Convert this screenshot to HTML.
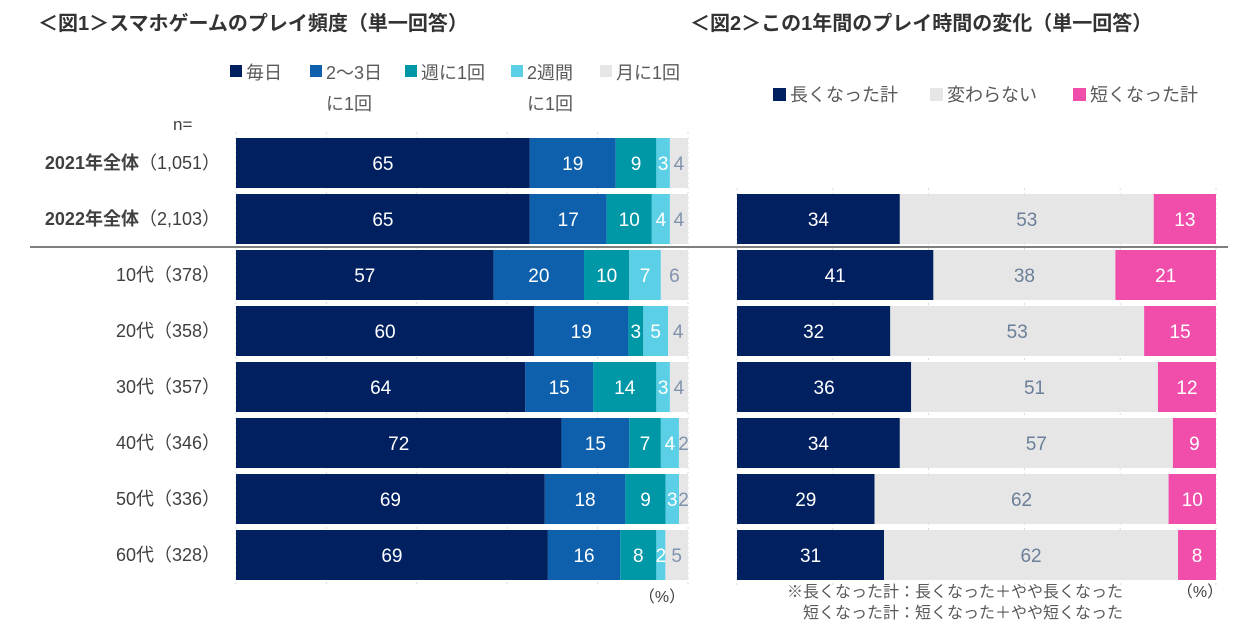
<!DOCTYPE html>
<html><head><meta charset="utf-8"><style>
body{margin:0;background:#fff;}
svg{display:block;font-family:"Liberation Sans","Noto Sans CJK JP",sans-serif;}
</style></head><body>
<svg id="c" width="1240" height="637" viewBox="0 0 1240 637">
<text x="38" y="30" font-size="20" font-weight="bold" fill="#333">＜図1＞スマホゲームのプレイ頻度（単一回答）</text>
<text x="690" y="30" font-size="20" font-weight="bold" fill="#333">＜図2＞この1年間のプレイ時間の変化（単一回答）</text>
<g id="g1"></g><g id="g2"></g>
<line x1="30" y1="247" x2="1228" y2="247" stroke="#7f7f7f" stroke-width="2"/>
<text x="173" y="130" font-size="17" fill="#404040">n=</text>
<text x="662" y="602" font-size="16" fill="#404040" text-anchor="middle">（%）</text>
<text x="1200" y="597" font-size="16" fill="#404040" text-anchor="middle">（%）</text>
<text x="1123" y="597" font-size="16" fill="#595959" text-anchor="end">※長くなった計：長くなった＋やや長くなった</text>
<text x="1123" y="618" font-size="16" fill="#595959" text-anchor="end">短くなった計：短くなった＋やや短くなった</text>
</svg>
<script>
const rows1=["2021年全体","2022年全体","10代","20代","30代","40代","50代","60代"];
const ns1=["（1,051）","（2,103）","（378）","（358）","（357）","（346）","（336）","（328）"];
const ser1=["毎日","2～3日に1回","週に1回","2週間に1回","月に1回"];
const v1=[[65,19,9,3,4],[65,17,10,4,4],[57,20,10,7,6],[60,19,3,5,4],[64,15,14,3,4],[72,15,7,4,2],[69,18,9,3,2],[69,16,8,2,5]];
const ser2=["長くなった計","変わらない","短くなった計"];
const v2=[[34,53,13],[41,38,21],[32,53,15],[36,51,12],[34,57,9],[29,62,10],[31,62,8]];
const col1=["#002060","#0e5fac","#0097a7","#5bcfe5","#e6e6e6"];
const col2=["#002060","#e6e6e6","#f04eaa"];
const NS="http://www.w3.org/2000/svg";
function mk(p,t,a){const e=document.createElementNS(NS,t);for(const k in a)e.setAttribute(k,a[k]);p.appendChild(e);return e;}
const y0=138,pitch=56,bh=50;
const yb=i=>y0+i*pitch;
const g1=document.getElementById('g1'),g2=document.getElementById('g2');
const x1L=236,x1W=452,x2L=737,x2W=479;
for(let k=0;k<=5;k++){
 const l=mk(g1,'line',{x1:x1L+x1W*k/5,x2:x1L+x1W*k/5,y1:132,y2:585,stroke:'#d9d9d9','stroke-dasharray':'2,3'});
 
 
 const l2=mk(g2,'line',{x1:x2L+x2W*k/5,x2:x2L+x2W*k/5,y1:188,y2:585,stroke:'#d9d9d9','stroke-dasharray':'2,3'});
 
 
}
const lx1=[230,310,405,511,600];
ser1.forEach((s,j)=>{
 const r=mk(g1,'rect',{x:lx1[j],y:65,width:12,height:12,fill:col1[j]});
 
 
 const parts=j==1?["2～3日","に1回"]:j==3?["2週間","に1回"]:[s];
 parts.forEach((p,q)=>{const t=mk(g1,'text',{x:lx1[j]+16,y:79+q*31,'font-size':18,fill:'#595959'});t.textContent=p;
 
 });
});
rows1.forEach((r,i)=>{
 const y=yb(i);
 const tot=v1[i].reduce((a,b)=>a+b,0);
 const t=mk(g1,'text',{x:220,y:y+31,'font-size':18,fill:'#404040','text-anchor':'end'});
 if(i<2){const b=mk(t,'tspan',{'font-weight':'bold'});b.textContent=r;const n=mk(t,'tspan',{});n.textContent=ns1[i];}
 else t.textContent=r+ns1[i];
 
 
 let acc=0;
 v1[i].forEach((v,j)=>{
  const x=x1L+acc/tot*x1W,w=v/tot*x1W;acc+=v;
  const b=mk(g1,'rect',{x:x,y:y,width:w,height:bh,fill:col1[j]});
  
  
  const tx=mk(g1,'text',{x:x+w/2,y:y+32,'font-size':19,fill:j==4?'#8093ad':'#fff','text-anchor':'middle'});
  tx.textContent=v;
  
  
 });
});
const lx2=[773,930,1073];
ser2.forEach((s,j)=>{
 const r=mk(g2,'rect',{x:lx2[j],y:88,width:13,height:13,fill:col2[j]});
 
 
 const t=mk(g2,'text',{x:lx2[j]+17,y:101,'font-size':18,fill:'#595959'});t.textContent=s;
 
 
});
v2.forEach((row,i)=>{
 const y=yb(i+1);
 const tot=row.reduce((a,b)=>a+b,0);
 let acc=0;
 row.forEach((v,j)=>{
  const x=x2L+acc/tot*x2W,w=v/tot*x2W;acc+=v;
  const b=mk(g2,'rect',{x:x,y:y,width:w,height:bh,fill:col2[j]});
  
  
  const tx=mk(g2,'text',{x:x+w/2,y:y+32,'font-size':19,fill:j==1?'#6b7f99':'#fff','text-anchor':'middle'});
  tx.textContent=v;
  
  
 });
});
</script>
</body></html>
